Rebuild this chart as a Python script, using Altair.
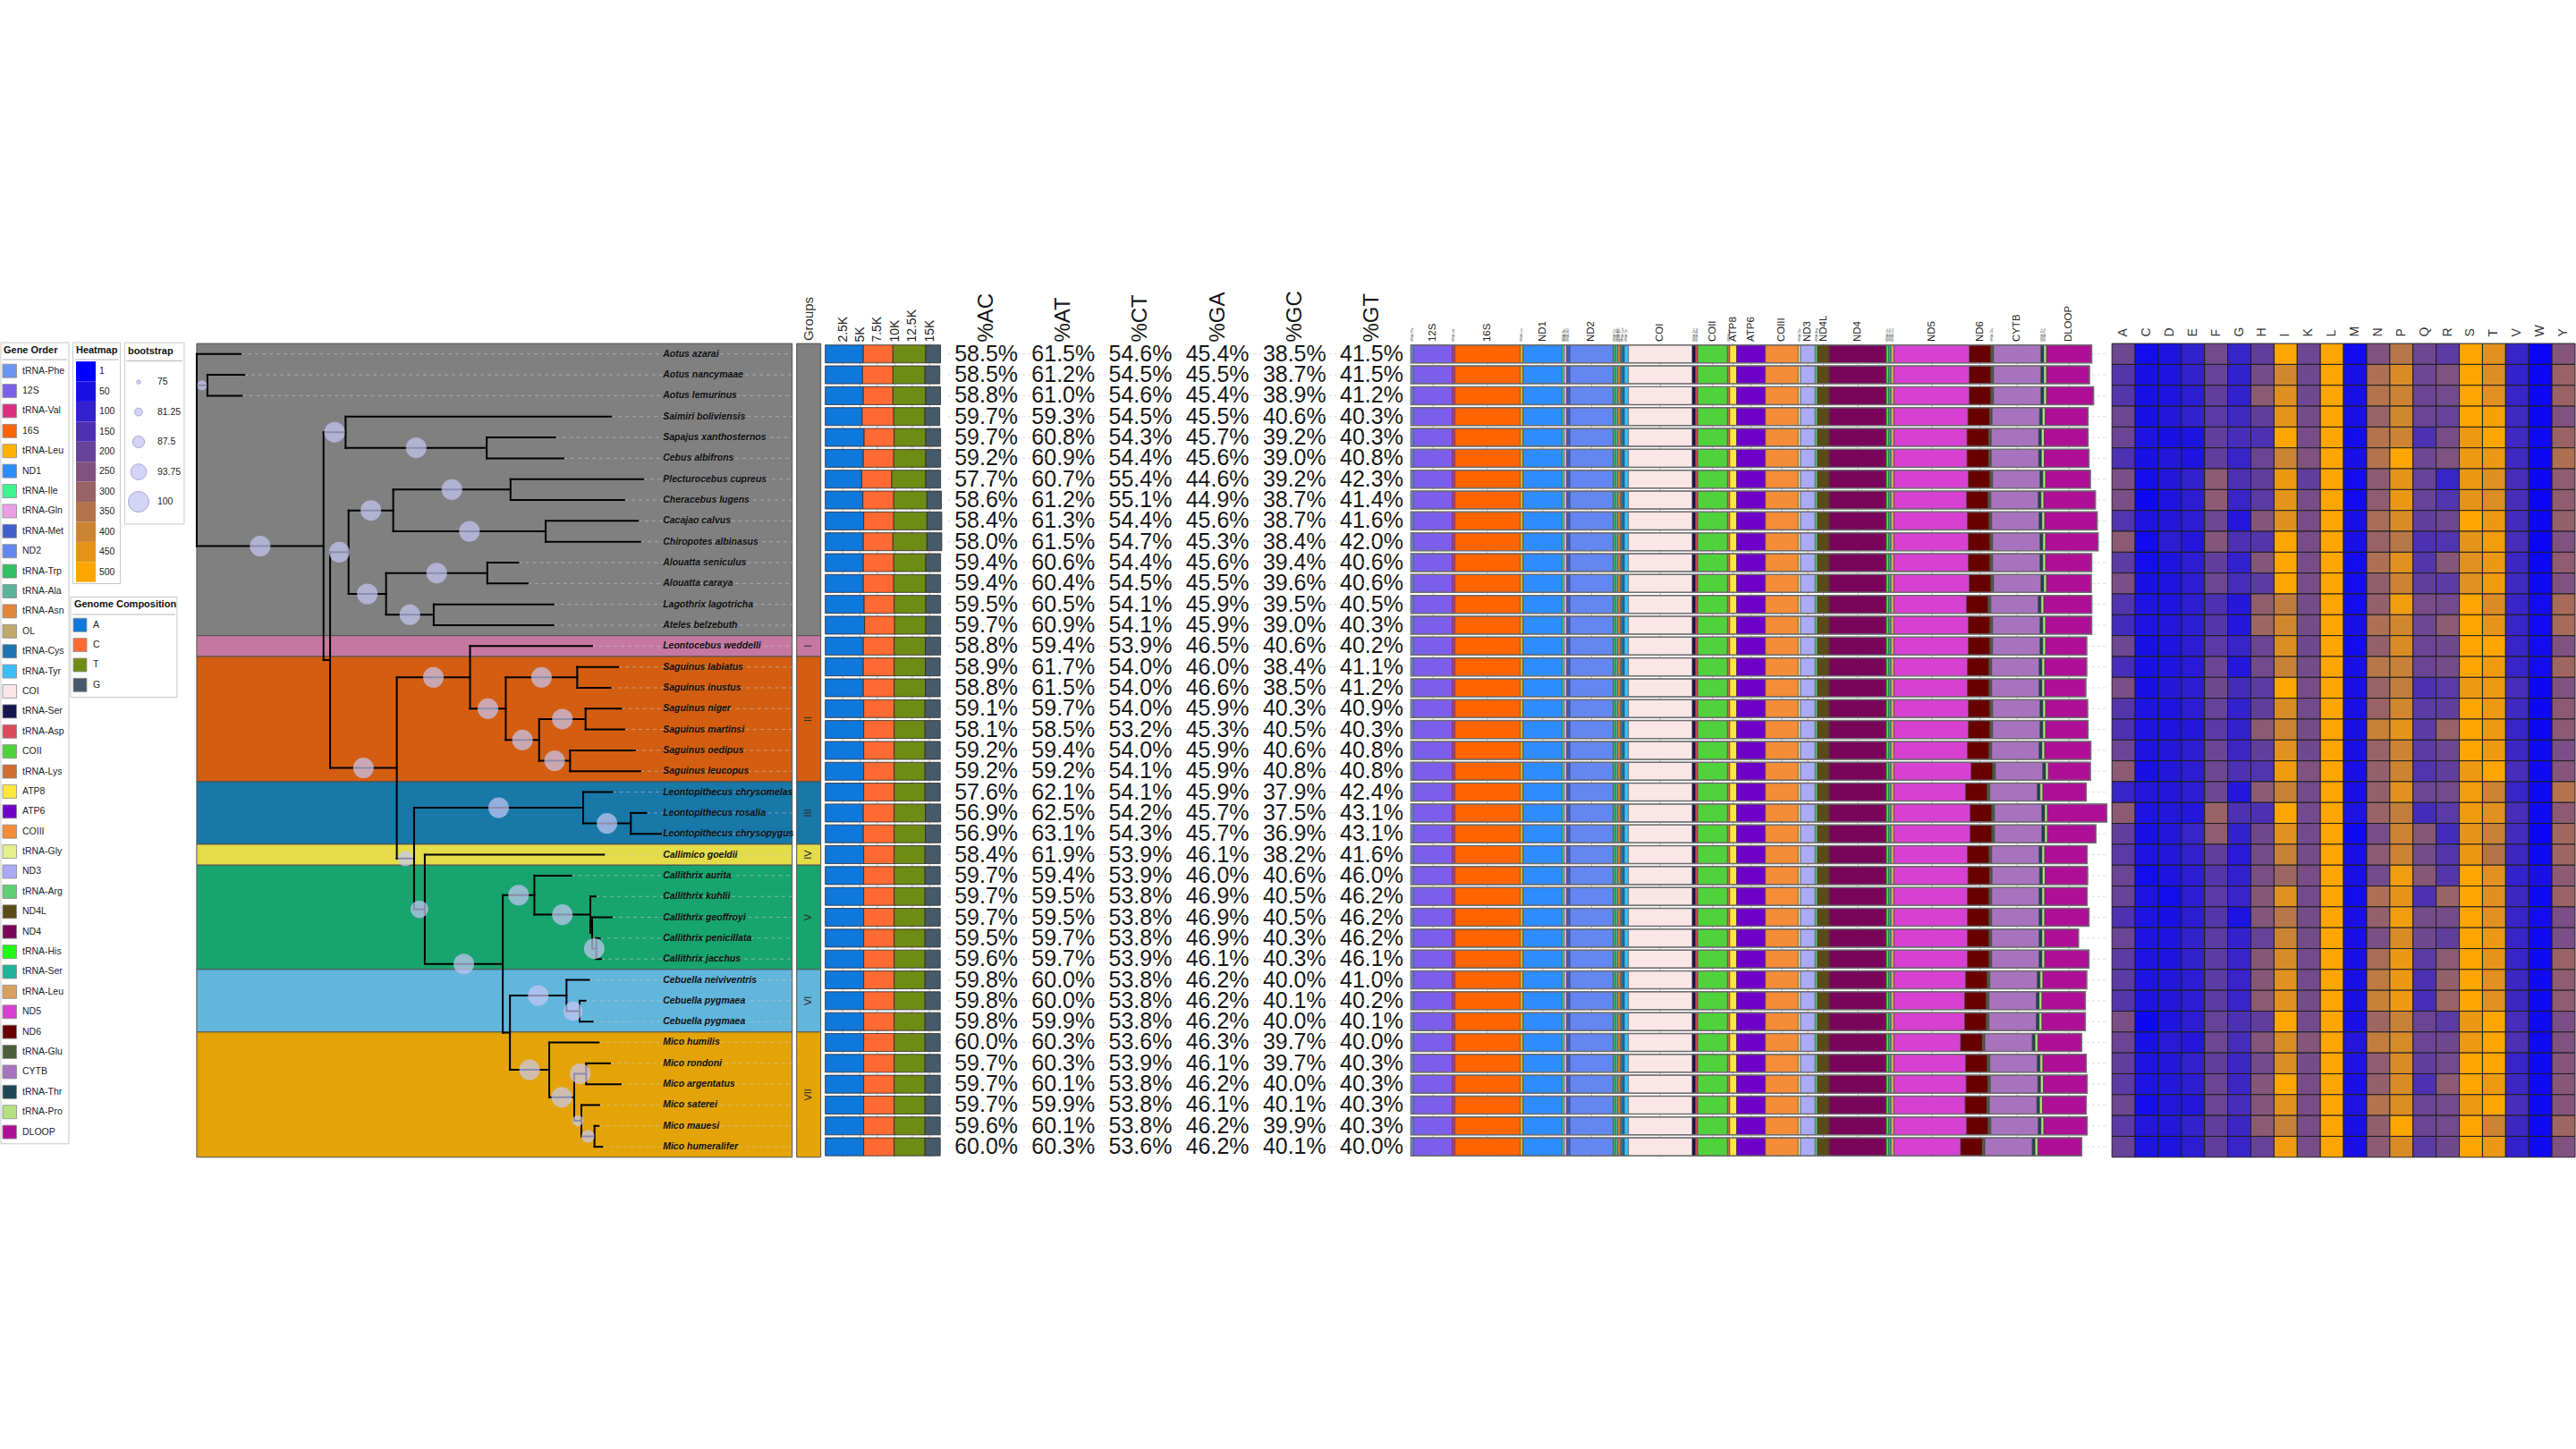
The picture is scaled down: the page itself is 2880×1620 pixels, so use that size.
import altair as alt
import pandas as pd

FONT = "Liberation Sans"

# ---------------------------------------------------------------- data
species = [
    "Aotus azarai", "Aotus nancymaae", "Aotus lemurinus", "Saimiri boliviensis",
    "Sapajus xanthosternos", "Cebus albifrons", "Plecturocebus cupreus", "Cheracebus lugens",
    "Cacajao calvus", "Chiropotes albinasus", "Alouatta seniculus", "Alouatta caraya",
    "Lagothrix lagotricha", "Ateles belzebuth", "Leontocebus weddelli", "Saguinus labiatus",
    "Saguinus inustus", "Saguinus niger", "Saguinus martinsi", "Saguinus oedipus",
    "Saguinus leucopus", "Leontopithecus chrysomelas", "Leontopithecus rosalia",
    "Leontopithecus chrysopygus", "Callimico goeldii", "Callithrix aurita", "Callithrix kuhlii",
    "Callithrix geoffroyi", "Callithrix penicillata", "Callithrix jacchus",
    "Cebuella neiviventris", "Cebuella pygmaea", "Cebuella pygmaea", "Mico humilis",
    "Mico rondoni", "Mico argentatus", "Mico saterei", "Mico mauesi", "Mico humeralifer",
]
N = len(species)

group_labels = ["", "I", "II", "III", "IV", "V", "VI", "VII"]
group_sizes = [14, 1, 6, 3, 1, 5, 3, 6]
group_colors = ["#808080", "#C678A0", "#D35E11", "#1878A8", "#E4DC48", "#18A46E", "#62B5DB", "#E4A408"]

# tree: (node, parent, depth, bootstrap); tips are t<row>
tree_nodes = [
    ("root", None, 0.0, None),
    ("t1", "root", 7.4, None),
    ("nAot", "root", 1.8, 84),
    ("t2", "nAot", 8.0, None), ("t3", "nAot", 7.6, None),
    ("nA", "root", 21.3, 100),
    ("nB", "nA", 25.0, 100),
    ("t4", "nB", 69.6, None),
    ("nC", "nB", 48.7, 100),
    ("t5", "nC", 60.2, None), ("t6", "nC", 61.6, None),
    ("nE", "nA", 22.4, None),
    ("nD", "nE", 25.5, 100),
    ("nF", "nD", 33.0, 100),
    ("nG", "nF", 52.7, 100),
    ("t7", "nG", 75.0, None), ("t8", "nG", 71.8, None),
    ("nH", "nF", 58.6, 100),
    ("t9", "nH", 74.1, None), ("t10", "nH", 74.5, None),
    ("nI", "nD", 31.8, 100),
    ("nJ", "nI", 48.8, 100),
    ("t11", "nJ", 54.0, None), ("t12", "nJ", 55.6, None),
    ("nK", "nI", 39.8, 100),
    ("t13", "nK", 59.9, None), ("t14", "nK", 59.9, None),
    ("nL", "nE", 33.6, 100),
    ("nM", "nL", 45.9, 100),
    ("t15", "nM", 66.4, None),
    ("nN", "nM", 51.9, 100),
    ("nO", "nN", 63.9, 100),
    ("t16", "nO", 70.8, None), ("t17", "nO", 69.5, None),
    ("nP", "nN", 57.5, 100),
    ("nQ", "nP", 65.3, 100),
    ("t18", "nQ", 71.3, None), ("t19", "nQ", 71.8, None),
    ("nR", "nP", 62.7, 100),
    ("t20", "nR", 73.6, None), ("t21", "nR", 74.5, None),
    ("nS", "nL", 36.5, 93),
    ("nT", "nS", 64.9, 100),
    ("t22", "nT", 69.8, None),
    ("nU", "nT", 72.9, 100),
    ("t23", "nU", 75.5, None), ("t24", "nU", 78.0, None),
    ("nV", "nS", 38.3, 96),
    ("t25", "nV", 68.4, None),
    ("nW", "nV", 51.4, 100),
    ("nX", "nW", 56.7, 100),
    ("t26", "nX", 62.9, None),
    ("nY", "nX", 66.1, 100),
    ("t27", "nY", 67.0, None),
    ("nY2", "nY", 66.4, None),
    ("t28", "nY2", 69.7, None),
    ("nY3", "nY2", 67.1, 100),
    ("t29", "nY3", 67.7, None), ("t30", "nY3", 67.9, None),
    ("nZ", "nW", 52.6, None),
    ("nAA", "nZ", 62.1, 100),
    ("t31", "nAA", 65.9, None),
    ("nAB", "nAA", 64.3, 98),
    ("t32", "nAB", 65.3, None), ("t33", "nAB", 66.5, None),
    ("nAC", "nZ", 59.2, 100),
    ("t34", "nAC", 67.5, None),
    ("nAD", "nAC", 63.4, 100),
    ("nAE", "nAD", 65.4, 100),
    ("t35", "nAE", 69.4, None), ("t36", "nAE", 71.2, None),
    ("nAF", "nAD", 64.6, 86),
    ("t37", "nAF", 67.6, None),
    ("nAG", "nAF", 66.8, 89),
    ("t38", "nAG", 67.5, None), ("t39", "nAG", 68.1, None),
]

# genome composition (kb)
comp_A = [5.47, 5.36, 5.47, 5.30, 5.59, 5.47, 5.24, 5.41, 5.53, 5.47, 5.47, 5.47, 5.59, 5.65,
          5.47, 5.47, 5.47, 5.53, 5.53, 5.53, 5.53, 5.53, 5.47, 5.47, 5.53, 5.53, 5.53, 5.53,
          5.53, 5.53, 5.53, 5.53, 5.53, 5.53, 5.53, 5.53, 5.53, 5.53, 5.53]
comp_C = [4.26, 4.38, 4.26, 4.55, 4.32, 4.38, 4.32, 4.44, 4.32, 4.26, 4.38, 4.38, 4.32, 4.32,
          4.44, 4.44, 4.44, 4.38, 4.38, 4.38, 4.38, 4.38, 4.44, 4.44, 4.38, 4.38, 4.38, 4.38,
          4.38, 4.38, 4.38, 4.38, 4.38, 4.38, 4.38, 4.38, 4.38, 4.38, 4.38]
comp_T = [4.72, 4.61, 4.72, 4.49, 4.55, 4.61, 4.90, 4.78, 4.78, 4.90, 4.61, 4.61, 4.55, 4.49,
          4.49, 4.49, 4.49, 4.44, 4.44, 4.44, 4.44, 4.44, 4.49, 4.49, 4.44, 4.44, 4.44, 4.44,
          4.44, 4.44, 4.44, 4.44, 4.44, 4.44, 4.44, 4.44, 4.44, 4.44, 4.44]
comp_G = [2.13, 2.13, 2.13, 2.13, 2.13, 2.13, 2.13, 2.07, 2.13, 2.13, 2.13, 2.13, 2.13, 2.13,
          2.19, 2.13, 2.13, 2.19, 2.19, 2.19, 2.19, 2.19, 2.19, 2.19, 2.19, 2.19, 2.19, 2.19,
          2.19, 2.19, 2.19, 2.19, 2.19, 2.19, 2.19, 2.19, 2.19, 2.19, 2.19]
comp_bases = ["A", "C", "T", "G"]
comp_colors = ["#0F78DC", "#FF6A32", "#6E8C14", "#465A69"]
comp_ticks = [2.5, 5, 7.5, 10, 12.5, 15]

# pairwise base percentages
pct_headers = ["%AC", "%AT", "%CT", "%GA", "%GC", "%GT"]
pct_AC = [58.5, 58.5, 58.8, 59.7, 59.7, 59.2, 57.7, 58.6, 58.4, 58.0, 59.4, 59.4, 59.5, 59.7, 58.8,
          58.9, 58.8, 59.1, 58.1, 59.2, 59.2, 57.6, 56.9, 56.9, 58.4, 59.7, 59.7, 59.7, 59.5, 59.6,
          59.8, 59.8, 59.8, 60.0, 59.7, 59.7, 59.7, 59.6, 60.0]
pct_AT = [61.5, 61.2, 61.0, 59.3, 60.8, 60.9, 60.7, 61.2, 61.3, 61.5, 60.6, 60.4, 60.5, 60.9, 59.4,
          61.7, 61.5, 59.7, 58.5, 59.4, 59.2, 62.1, 62.5, 63.1, 61.9, 59.4, 59.5, 59.5, 59.7, 59.7,
          60.0, 60.0, 59.9, 60.3, 60.3, 60.1, 59.9, 60.1, 60.3]
pct_CT = [54.6, 54.5, 54.6, 54.5, 54.3, 54.4, 55.4, 55.1, 54.4, 54.7, 54.4, 54.5, 54.1, 54.1, 53.9,
          54.0, 54.0, 54.0, 53.2, 54.0, 54.1, 54.1, 54.2, 54.3, 53.9, 53.9, 53.8, 53.8, 53.8, 53.9,
          53.8, 53.8, 53.8, 53.6, 53.9, 53.8, 53.8, 53.8, 53.6]
pct_GA = [45.4, 45.5, 45.4, 45.5, 45.7, 45.6, 44.6, 44.9, 45.6, 45.3, 45.6, 45.5, 45.9, 45.9, 46.5,
          46.0, 46.6, 45.9, 45.3, 45.9, 45.9, 45.9, 45.7, 45.7, 46.1, 46.0, 46.9, 46.9, 46.9, 46.1,
          46.2, 46.2, 46.2, 46.3, 46.1, 46.2, 46.1, 46.2, 46.2]
pct_GC = [38.5, 38.7, 38.9, 40.6, 39.2, 39.0, 39.2, 38.7, 38.7, 38.4, 39.4, 39.6, 39.5, 39.0, 40.6,
          38.4, 38.5, 40.3, 40.5, 40.6, 40.8, 37.9, 37.5, 36.9, 38.2, 40.6, 40.5, 40.5, 40.3, 40.3,
          40.0, 40.1, 40.0, 39.7, 39.7, 40.0, 40.1, 39.9, 40.1]
pct_GT = [41.5, 41.5, 41.2, 40.3, 40.3, 40.8, 42.3, 41.4, 41.6, 42.0, 40.6, 40.6, 40.5, 40.3, 40.2,
          41.1, 41.2, 40.9, 40.3, 40.8, 40.8, 42.4, 43.1, 43.1, 41.6, 46.0, 46.2, 46.2, 46.2, 46.1,
          41.0, 40.2, 40.1, 40.0, 40.3, 40.3, 40.3, 40.3, 40.0]

# gene order (bp); ND5 and DLOOP vary per species
gene_names = ["tRNA-Phe", "12S", "tRNA-Val", "16S", "tRNA-Leu", "ND1", "tRNA-Ile", "tRNA-Gln",
              "tRNA-Met", "ND2", "tRNA-Trp", "tRNA-Ala", "tRNA-Asn", "OL", "tRNA-Cys", "tRNA-Tyr",
              "COI", "tRNA-Ser", "tRNA-Asp", "COII", "tRNA-Lys", "ATP8", "ATP6", "COIII",
              "tRNA-Gly", "ND3", "tRNA-Arg", "ND4L", "ND4", "tRNA-His", "tRNA-Ser", "tRNA-Leu",
              "ND5", "ND6", "tRNA-Glu", "CYTB", "tRNA-Thr", "tRNA-Pro", "DLOOP"]
gene_colors = ["#6A96F0", "#7B5FEB", "#DC2D80", "#FF6400", "#FFB300", "#2D8CFF", "#3DF590", "#EBA0E6",
               "#3F5FCC", "#6486F0", "#32C064", "#5AB49B", "#E0873C", "#C0A86E", "#1F73AF", "#3CBEF5",
               "#FAE6E6", "#141650", "#DC4B5A", "#50D23C", "#CD6E32", "#FFE63C", "#6E00C8", "#F58C37",
               "#E6F08C", "#AAAAF5", "#5ECF73", "#5A4B19", "#780559", "#1EFF14", "#1EB49B", "#D7A05F",
               "#D741D2", "#690000", "#4B5F3C", "#A873BE", "#1E4655", "#B4E182", "#AF0F96"]
gene_len_bp = [60, 957, 56, 1591, 67, 957, 44, 67, 78, 1057, 56, 56, 56, 33, 67, 100, 1557, 78, 56,
               723, 56, 167, 701, 801, 56, 356, 56, 289, 1390, 56, 56, 78, None, 523, 67, 1157, 67,
               67, None]
nd5_bp = [1835, 1835, 1835, 1802, 1780, 1780, 1813, 1769, 1791, 1813, 1813, 1835, 1769, 1813, 1813,
          1791, 1791, 1813, 1813, 1791, 1880, 1746, 1858, 1858, 1791, 1802, 1791, 1791, 1791, 1791,
          1746, 1724, 1724, 1624, 1746, 1758, 1735, 1769, 1624]
dloop_bp = [1101, 1046, 1146, 1046, 1068, 1090, 1090, 1257, 1279, 1279, 1123, 1090, 1168, 1123, 1001,
            1023, 1001, 1023, 1034, 1123, 1023, 1057, 1446, 1179, 1034, 1034, 1034, 1079, 823, 1079,
            1068, 1057, 1057, 1068, 1057, 1068, 1068, 1057, 1068]

# amino-acid heatmap values (1-500 scale)
amino_acids = ["A", "C", "D", "E", "F", "G", "H", "I", "K", "L", "M", "N", "P", "Q", "R", "S", "T", "V", "W", "Y"]
hm_A = [215, 165, 165, 215, 210, 150, 240, 240, 160, 275, 180, 240, 160, 130, 215, 140, 240, 165, 150, 210, 275, 110, 275, 190, 175, 210, 200, 150, 210, 180, 180, 165, 240, 210, 190, 180, 215, 175, 200]
hm_C = [40, 50, 50, 50, 60, 50, 40, 25, 60, 35, 40, 50, 60, 60, 50, 50, 50, 60, 60, 60, 50, 70, 60, 50, 60, 40, 60, 60, 60, 60, 60, 60, 25, 50, 60, 60, 40, 70, 60]
hm_D = [60, 60, 60, 70, 50, 70, 70, 60, 70, 90, 60, 60, 60, 70, 60, 60, 75, 60, 60, 70, 70, 70, 70, 70, 70, 60, 40, 50, 60, 60, 70, 70, 60, 80, 70, 70, 70, 70, 60]
hm_E = [100, 100, 90, 100, 60, 60, 100, 90, 90, 70, 90, 90, 90, 90, 90, 80, 90, 90, 70, 90, 90, 90, 70, 110, 100, 90, 90, 90, 100, 100, 90, 90, 90, 70, 100, 90, 70, 100, 90]
hm_F = [225, 200, 190, 175, 190, 190, 275, 275, 215, 260, 190, 215, 150, 165, 175, 210, 220, 200, 175, 210, 215, 215, 300, 280, 190, 165, 175, 165, 180, 180, 180, 180, 200, 215, 190, 210, 210, 190, 190]
hm_G = [110, 100, 100, 125, 140, 110, 150, 110, 70, 150, 100, 140, 75, 70, 110, 70, 135, 100, 100, 120, 150, 70, 150, 100, 80, 100, 110, 60, 100, 110, 110, 110, 150, 140, 120, 120, 140, 120, 110]
hm_H = [190, 230, 275, 190, 150, 210, 190, 180, 260, 165, 260, 180, 285, 310, 210, 225, 180, 190, 275, 190, 160, 275, 150, 220, 230, 240, 265, 260, 200, 265, 265, 275, 190, 260, 225, 260, 260, 275, 200]
hm_I = [500, 410, 435, 450, 500, 400, 460, 450, 435, 500, 500, 500, 375, 410, 430, 390, 500, 425, 400, 440, 470, 390, 500, 440, 390, 310, 440, 360, 400, 420, 440, 440, 500, 430, 430, 500, 440, 390, 470]
hm_K = [215, 220, 220, 230, 235, 250, 190, 235, 235, 235, 235, 235, 230, 230, 220, 230, 235, 225, 230, 220, 250, 225, 225, 225, 230, 235, 225, 230, 230, 225, 225, 230, 225, 260, 230, 235, 235, 235, 235]
hm_L = [500, 500, 500, 500, 500, 500, 500, 500, 500, 500, 500, 500, 500, 500, 500, 500, 500, 500, 500, 500, 500, 500, 500, 500, 500, 500, 500, 500, 500, 500, 500, 500, 500, 500, 500, 500, 500, 500, 500]
hm_M = [35, 50, 50, 50, 40, 50, 40, 35, 50, 50, 40, 40, 40, 50, 40, 50, 50, 50, 50, 50, 50, 50, 60, 30, 50, 50, 40, 50, 50, 50, 50, 50, 50, 70, 60, 50, 60, 50, 50]
hm_N = [250, 340, 350, 300, 350, 350, 275, 280, 330, 300, 340, 285, 290, 340, 290, 360, 300, 300, 390, 300, 290, 290, 300, 235, 275, 225, 340, 290, 240, 330, 370, 390, 310, 380, 280, 290, 350, 285, 275]
hm_P = [360, 425, 400, 410, 400, 500, 450, 460, 425, 360, 440, 400, 475, 410, 425, 390, 380, 410, 450, 400, 400, 440, 380, 400, 400, 475, 450, 475, 425, 460, 460, 465, 390, 420, 425, 425, 430, 500, 425]
hm_Q = [215, 215, 210, 210, 150, 215, 200, 200, 190, 150, 165, 190, 235, 215, 210, 210, 150, 180, 180, 180, 160, 215, 135, 265, 230, 265, 150, 230, 220, 180, 150, 140, 210, 210, 190, 150, 210, 210, 180]
hm_R = [180, 250, 225, 200, 235, 250, 110, 160, 215, 160, 260, 180, 225, 275, 220, 230, 175, 190, 300, 215, 190, 225, 175, 135, 165, 165, 300, 230, 190, 275, 290, 300, 180, 220, 225, 275, 225, 225, 220]
hm_S = [500, 500, 500, 500, 465, 465, 460, 450, 500, 450, 440, 440, 500, 500, 500, 500, 465, 500, 500, 500, 465, 475, 470, 450, 460, 500, 500, 500, 500, 500, 500, 500, 460, 465, 500, 500, 465, 500, 500]
hm_T = [440, 430, 440, 485, 500, 460, 435, 430, 460, 475, 460, 470, 425, 450, 500, 470, 465, 465, 465, 465, 500, 400, 440, 390, 350, 440, 435, 440, 460, 450, 440, 440, 500, 500, 500, 465, 500, 400, 460]
hm_V = [110, 100, 110, 125, 125, 125, 140, 140, 135, 140, 120, 125, 110, 110, 110, 110, 140, 125, 110, 120, 140, 110, 140, 130, 120, 100, 120, 110, 110, 110, 120, 120, 140, 150, 110, 120, 140, 120, 100]
hm_W = [20, 25, 25, 25, 30, 25, 25, 20, 25, 20, 25, 30, 40, 35, 40, 40, 25, 25, 25, 30, 30, 30, 30, 20, 30, 50, 30, 40, 30, 30, 30, 30, 30, 30, 30, 30, 30, 30, 30]
hm_Y = [260, 300, 300, 250, 300, 340, 280, 280, 290, 250, 280, 250, 325, 325, 250, 310, 250, 275, 275, 240, 260, 350, 275, 315, 310, 275, 300, 240, 240, 300, 280, 280, 240, 250, 260, 265, 260, 310, 250]

heat_legend_values = [1, 50, 100, 150, 200, 250, 300, 350, 400, 450, 500]
boot_legend_values = [75, 81.25, 87.5, 93.75, 100]

# ---------------------------------------------------------------- layout constants
H = 910
W_LEG, W_TREE, W_GRP, W_COMP, W_PCT, W_GENE, W_HEAT = 215, 666, 27, 132, 513, 779, 518
rows = list(range(1, N + 1))

band_y = alt.Y("row:O", scale=alt.Scale(domain=rows, paddingInner=0.14, paddingOuter=0.07), axis=None)
heat_y = alt.Y("row:O", scale=alt.Scale(domain=rows, paddingInner=0, paddingOuter=0), axis=None)
q_y = alt.Scale(domain=[0.5, N + 0.5], reverse=True, nice=False, zero=False)
boot_scale = alt.Scale(domain=boot_legend_values, range=[20, 78, 177, 314, 531])
heat_scale = alt.Scale(domain=[1, 500], range=["#0000FF", "#FFA500"], interpolate="rgb", clamp=True)
grp_keys = [f"grp{i}" for i in range(len(group_labels))]
grp_scale = alt.Scale(domain=grp_keys, range=group_colors)
gene_keys = [f"g{i:02d}" for i in range(len(gene_names))]
gene_scale = alt.Scale(domain=gene_keys, range=gene_colors)
comp_scale = alt.Scale(domain=comp_bases, range=comp_colors)

rows_df = pd.DataFrame({"row": rows})


def dashed(width):
    return alt.Chart(rows_df).mark_rule(color="#D2D2D2", strokeDash=[3, 3], strokeWidth=0.8).encode(
        y=band_y, x=alt.value(0), x2=alt.value(width))


# ---------------------------------------------------------------- tree
children, depth, boot, parent = {}, {}, {}, {}
for n, p, d, b in tree_nodes:
    depth[n], boot[n], parent[n] = d, b, p
    if p is not None:
        children.setdefault(p, []).append(n)
Y = {}


def gety(n):
    if n.startswith("t"):
        Y[n] = int(n[1:])
    else:
        ys = [gety(c) for c in children[n]]
        Y[n] = sum(ys) / len(ys)
    return Y[n]


gety("root")
segs, boots = [], []
for n, p, d, b in tree_nodes:
    if p is not None:
        segs.append(dict(x=depth[p], x2=d, y=Y[n], y2=Y[n]))
        if b is not None:
            boots.append(dict(x=(depth[p] + d) / 2, y=Y[n], bs=b))
    if n in children:
        cy = [Y[c] for c in children[n]]
        segs.append(dict(x=d, x2=d, y=min(cy), y2=max(cy)))
seg_df, boot_df = pd.DataFrame(segs), pd.DataFrame(boots)
tips_df = pd.DataFrame({"row": rows, "name": species, "depth": [depth[f"t{r}"] for r in rows]})

starts, s = [], 1
for g in group_sizes:
    starts.append(s)
    s += g
grp_df = pd.DataFrame({
    "key": grp_keys, "label": group_labels,
    "y0": [st - 0.5 for st in starts],
    "y1": [st + g - 0.5 for st, g in zip(starts, group_sizes)],
    "mid": [st + (g - 1) / 2 for st, g in zip(starts, group_sizes)],
})

tx = alt.Scale(domain=[0, 100], nice=False, zero=False)
tree_bands = alt.Chart(grp_df).mark_rect(stroke="#505050", strokeWidth=1).encode(
    x=alt.value(0), x2=alt.value(W_TREE),
    y=alt.Y("y0:Q", scale=q_y, axis=None), y2="y1:Q",
    color=alt.Color("key:N", scale=grp_scale, legend=None))
tree_dash = alt.Chart(tips_df).mark_rule(color="#C8C8C8", opacity=0.6, strokeDash=[4, 4], strokeWidth=1).encode(
    x=alt.X("depth:Q", scale=tx, axis=None), x2=alt.value(W_TREE),
    y=alt.Y("row:Q", scale=q_y, axis=None))
tree_lines = alt.Chart(seg_df).mark_rule(color="black", strokeWidth=2, strokeCap="square").encode(
    x=alt.X("x:Q", scale=tx, axis=None), x2="x2:Q",
    y=alt.Y("y:Q", scale=q_y, axis=None), y2="y2:Q")
tree_boot = alt.Chart(boot_df).mark_circle(color="#C8C8F5", opacity=0.7).encode(
    x=alt.X("x:Q", scale=tx, axis=None), y=alt.Y("y:Q", scale=q_y, axis=None),
    size=alt.Size("bs:Q", scale=boot_scale, legend=None))
tree_text = alt.Chart(tips_df).mark_text(
    align="left", baseline="middle", fontSize=10.5, fontStyle="italic", fontWeight="bold",
    color="#111111", font=FONT).encode(
    x=alt.X(datum=78.3, scale=tx, axis=None), y=alt.Y("row:Q", scale=q_y, axis=None), text="name:N")
tree = alt.layer(tree_bands, tree_dash, tree_lines, tree_boot, tree_text).properties(width=W_TREE, height=H)

# ---------------------------------------------------------------- groups column
grp_rect = alt.Chart(grp_df).mark_rect(stroke="#505050", strokeWidth=1).encode(
    x=alt.value(0), x2=alt.value(W_GRP),
    y=alt.Y("y0:Q", scale=q_y, axis=None), y2="y1:Q",
    color=alt.Color("key:N", scale=grp_scale, legend=None))
grp_text = alt.Chart(grp_df).mark_text(angle=270, fontSize=11, color="#2A2A2A", baseline="middle", align="center").encode(
    x=alt.value(W_GRP / 2), y=alt.Y("mid:Q", scale=q_y, axis=None), text="label:N")
grp_head = alt.Chart(pd.DataFrame({"t": ["Groups"]})).mark_text(
    angle=270, align="left", baseline="middle", fontSize=15, color="#333333").encode(
    x=alt.value(W_GRP / 2), y=alt.value(-3), text="t:N")
groups = alt.layer(grp_rect, grp_text, grp_head).properties(width=W_GRP, height=H)

# ---------------------------------------------------------------- genome composition
crec = []
for i, r in enumerate(rows):
    acc = 0.0
    for base, arr in zip(comp_bases, [comp_A, comp_C, comp_T, comp_G]):
        crec.append(dict(row=r, base=base, start=acc, end=acc + arr[i]))
        acc += arr[i]
comp_df = pd.DataFrame(crec)
cx = alt.Scale(domain=[0, 16.98], nice=False, zero=False)
comp_axis = alt.Axis(orient="top", values=comp_ticks, labelExpr="datum.value + 'K'",
                     labelAngle=270, labelAlign="left", labelBaseline="middle", labelFontSize=14,
                     labelPadding=2, ticks=False, domain=False, grid=False, title=None,
                     labelOverlap=False, labelFlush=False, labelColor="#222222")
comp_grid = alt.Chart(pd.DataFrame({"v": comp_ticks})).mark_rule(color="#BDBDBD", strokeWidth=1).encode(
    x=alt.X("v:Q", scale=cx, axis=comp_axis))
comp_bars = alt.Chart(comp_df).mark_bar(stroke="#2A2A2A", strokeWidth=0.8).encode(
    x=alt.X("start:Q", scale=cx, axis=comp_axis),
    x2="end:Q", y=band_y,
    color=alt.Color("base:N", scale=comp_scale, legend=None))
comp = alt.layer(comp_grid, dashed(W_COMP), comp_bars).properties(width=W_COMP, height=H)

# ---------------------------------------------------------------- percentages
prec = []
for k, arr in enumerate([pct_AC, pct_AT, pct_CT, pct_GA, pct_GC, pct_GT]):
    for i, r in enumerate(rows):
        prec.append(dict(row=r, col=k, label=f"{arr[i]:.1f}%"))
pct_df = pd.DataFrame(prec)
head_expr = "[" + ",".join(f"'{h}'" for h in pct_headers) + "][datum.value]"
pct_text = alt.Chart(pct_df).mark_text(fontSize=25, color="#151515", align="center", baseline="middle").encode(
    x=alt.X("col:Q", scale=alt.Scale(domain=[-0.4988, 5.4524], nice=False, zero=False),
            axis=alt.Axis(orient="top", values=list(range(6)), labelExpr=head_expr, labelAngle=270,
                          labelAlign="left", labelBaseline="middle", labelFontSize=24, labelPadding=2,
                          ticks=False, domain=False, grid=False, title=None, labelOverlap=False,
                          labelFlush=False, labelColor="#151515")),
    y=band_y, text="label:N")
pct = alt.layer(pct_text, dashed(W_PCT)).properties(width=W_PCT, height=H)

# ---------------------------------------------------------------- gene order
grec, row_end = [], []
for i, r in enumerate(rows):
    acc = 0.0
    for g, (key, ln) in enumerate(zip(gene_keys, gene_len_bp)):
        if g == 32:
            ln = nd5_bp[i]
        elif g == 38:
            ln = dloop_bp[i]
        grec.append(dict(row=r, key=key, name=gene_names[g], start=acc / 1000, end=(acc + ln) / 1000))
        acc += ln
    row_end.append(dict(row=r, start=0.0, end=acc / 1000))
gene_df = pd.DataFrame(grec)
outline_df = pd.DataFrame(row_end)
first = gene_df[gene_df.row == 1].copy()
first["mid"] = (first.start + first.end) / 2
first["small"] = first.name.str.startswith("tRNA") | (first.name == "OL")

gx = alt.Scale(domain=[0, 16.98], nice=False, zero=False)
gene_grid = alt.Chart(first[~first.small]).mark_rule(color="#BDBDBD", strokeWidth=1).encode(
    x=alt.X("mid:Q", scale=gx, axis=None))
gene_bars = alt.Chart(gene_df).mark_bar(stroke="#2E2E2E", strokeWidth=0.5).encode(
    x=alt.X("start:Q", scale=gx, axis=None), x2="end:Q", y=band_y,
    color=alt.Color("key:N", scale=gene_scale, legend=None))
gene_outline = alt.Chart(outline_df).mark_bar(fillOpacity=0, stroke="#6E6E6E", strokeWidth=1.5).encode(
    x=alt.X("start:Q", scale=gx, axis=None), x2="end:Q", y=band_y)
gene_lab_big = alt.Chart(first[~first.small]).mark_text(
    angle=270, align="left", baseline="middle", fontSize=11.5, color="#222222").encode(
    x=alt.X("mid:Q", scale=gx, axis=None), y=alt.value(-2), text="name:N")
gene_lab_small = alt.Chart(first[first.small]).mark_text(
    angle=270, align="left", baseline="middle", fontSize=3.5, color="#444444").encode(
    x=alt.X("mid:Q", scale=gx, axis=None), y=alt.value(-2), text="name:N")
gene = alt.layer(dashed(W_GENE), gene_grid, gene_bars, gene_outline, gene_lab_big, gene_lab_small).properties(
    width=W_GENE, height=H)

# ---------------------------------------------------------------- heatmap
hm_cols = [hm_A, hm_C, hm_D, hm_E, hm_F, hm_G, hm_H, hm_I, hm_K, hm_L,
           hm_M, hm_N, hm_P, hm_Q, hm_R, hm_S, hm_T, hm_V, hm_W, hm_Y]
hrec = []
for aa, arr in zip(amino_acids, hm_cols):
    for i, r in enumerate(rows):
        hrec.append(dict(row=r, aa=aa, v=arr[i]))
heat_df = pd.DataFrame(hrec)
heat = alt.Chart(heat_df).mark_rect(stroke="#1E1E1E", strokeWidth=1).encode(
    x=alt.X("aa:N", sort=amino_acids, scale=alt.Scale(domain=amino_acids, paddingInner=0, paddingOuter=0),
            axis=alt.Axis(orient="top", labelAngle=270, labelAlign="left", labelBaseline="middle",
                          labelFontSize=14, labelPadding=8, ticks=False, domain=False, title=None,
                          labelColor="#333333")),
    y=heat_y,
    color=alt.Color("v:Q", scale=heat_scale, legend=None)).properties(width=W_HEAT, height=H)

# ---------------------------------------------------------------- legends panel
lsx = alt.Scale(domain=[0, W_LEG], nice=False, zero=False)
lsy = alt.Scale(domain=[0, H], nice=False, zero=False, reverse=True)
LX = lambda f: alt.X(f, scale=lsx, axis=None)
LY = lambda f: alt.Y(f, scale=lsy, axis=None)

boxes = pd.DataFrame([
    dict(x=1, x2=77, y=-1, y2=895),
    dict(x=81.5, x2=134.5, y=-1, y2=268.5),
    dict(x=139.5, x2=206, y=-1, y2=202),
    dict(x=79, x2=198, y=283.5, y2=395.5),
])
titles = pd.DataFrame([
    dict(t="Gene Order", x=4, y=8), dict(t="Heatmap", x=85, y=8),
    dict(t="bootstrap", x=143, y=9), dict(t="Genome Composition", x=83, y=292.5),
])
seps = pd.DataFrame([
    dict(x=3, x2=75, y=18), dict(x=83.5, x2=132.5, y=18),
    dict(x=141.5, x2=204, y=19.5), dict(x=81, x2=196, y=303),
])
gl = pd.DataFrame({"key": gene_keys, "name": gene_names,
                   "y": [30.6 + 22.4 * i for i in range(len(gene_names))]})
gl["y0"], gl["y1"], gl["x0"], gl["x1"], gl["tx"] = gl.y - 7.5, gl.y + 7.5, 3.0, 18.5, 25.0
hl = pd.DataFrame({"v": heat_legend_values, "lab": [str(v) for v in heat_legend_values],
                   "y0": [20 + 22.43 * i for i in range(len(heat_legend_values))]})
hl["y1"], hl["y"], hl["x0"], hl["x1"], hl["tx"] = hl.y0 + 22.43, hl.y0 + 11.2, 85.0, 107.0, 111.0
bl = pd.DataFrame({"bs": boot_legend_values, "lab": ["75", "81.25", "87.5", "93.75", "100"],
                   "y": [43 + 33.5 * i for i in range(len(boot_legend_values))]})
bl["x"], bl["tx"] = 155.0, 176.0
cl = pd.DataFrame({"base": comp_bases, "y": [314.8 + 22.35 * i for i in range(4)]})
cl["y0"], cl["y1"], cl["x0"], cl["x1"], cl["tx"] = cl.y - 7.5, cl.y + 7.5, 82.0, 97.0, 104.0

leg_layers = [
    alt.Chart(boxes).mark_rect(fill="white", stroke="#C8C8C8", strokeWidth=1).encode(
        x=LX("x:Q"), x2="x2:Q", y=LY("y:Q"), y2="y2:Q"),
    alt.Chart(seps).mark_rule(color="#B4B4B4", strokeWidth=1).encode(
        x=LX("x:Q"), x2="x2:Q", y=LY("y:Q")),
    alt.Chart(titles).mark_text(align="left", baseline="middle", fontWeight="bold", fontSize=11,
                                color="#111111").encode(x=LX("x:Q"), y=LY("y:Q"), text="t:N"),
    alt.Chart(gl).mark_rect(stroke="#8C8C8C", strokeWidth=0.8).encode(
        x=LX("x0:Q"), x2="x1:Q", y=LY("y0:Q"), y2="y1:Q",
        color=alt.Color("key:N", scale=gene_scale, legend=None)),
    alt.Chart(gl).mark_text(align="left", baseline="middle", fontSize=10.5, color="#222222").encode(
        x=LX("tx:Q"), y=LY("y:Q"), text="name:N"),
    alt.Chart(hl).mark_rect().encode(
        x=LX("x0:Q"), x2="x1:Q", y=LY("y0:Q"), y2="y1:Q",
        color=alt.Color("v:Q", scale=heat_scale, legend=None)),
    alt.Chart(hl).mark_text(align="left", baseline="middle", fontSize=10.5, color="#222222").encode(
        x=LX("tx:Q"), y=LY("y:Q"), text="lab:N"),
    alt.Chart(bl).mark_point(filled=True, shape="circle", fill="#D4D4F7", stroke="#9A9AC8",
                             strokeWidth=0.8, opacity=1).encode(
        x=LX("x:Q"), y=LY("y:Q"), size=alt.Size("bs:Q", scale=boot_scale, legend=None)),
    alt.Chart(bl).mark_text(align="left", baseline="middle", fontSize=10.5, color="#222222").encode(
        x=LX("tx:Q"), y=LY("y:Q"), text="lab:N"),
    alt.Chart(cl).mark_rect(stroke="#8C8C8C", strokeWidth=0.8).encode(
        x=LX("x0:Q"), x2="x1:Q", y=LY("y0:Q"), y2="y1:Q",
        color=alt.Color("base:N", scale=comp_scale, legend=None)),
    alt.Chart(cl).mark_text(align="left", baseline="middle", fontSize=10.5, color="#222222").encode(
        x=LX("tx:Q"), y=LY("y:Q"), text="base:N"),
]
legend = alt.layer(*leg_layers).resolve_scale(color="independent").properties(width=W_LEG, height=H)

# ---------------------------------------------------------------- assemble
chart = alt.hconcat(legend, tree, groups, comp, pct, gene, heat, spacing=5, bounds="flush").resolve_scale(
    color="independent", size="independent", x="independent", y="independent"
).properties(
    padding={"left": 0, "top": 324, "right": 0, "bottom": 0}, background="white"
).configure(font=FONT).configure_view(stroke=None)

chart.save("out.html", embed_options={"renderer": "svg", "actions": False})
